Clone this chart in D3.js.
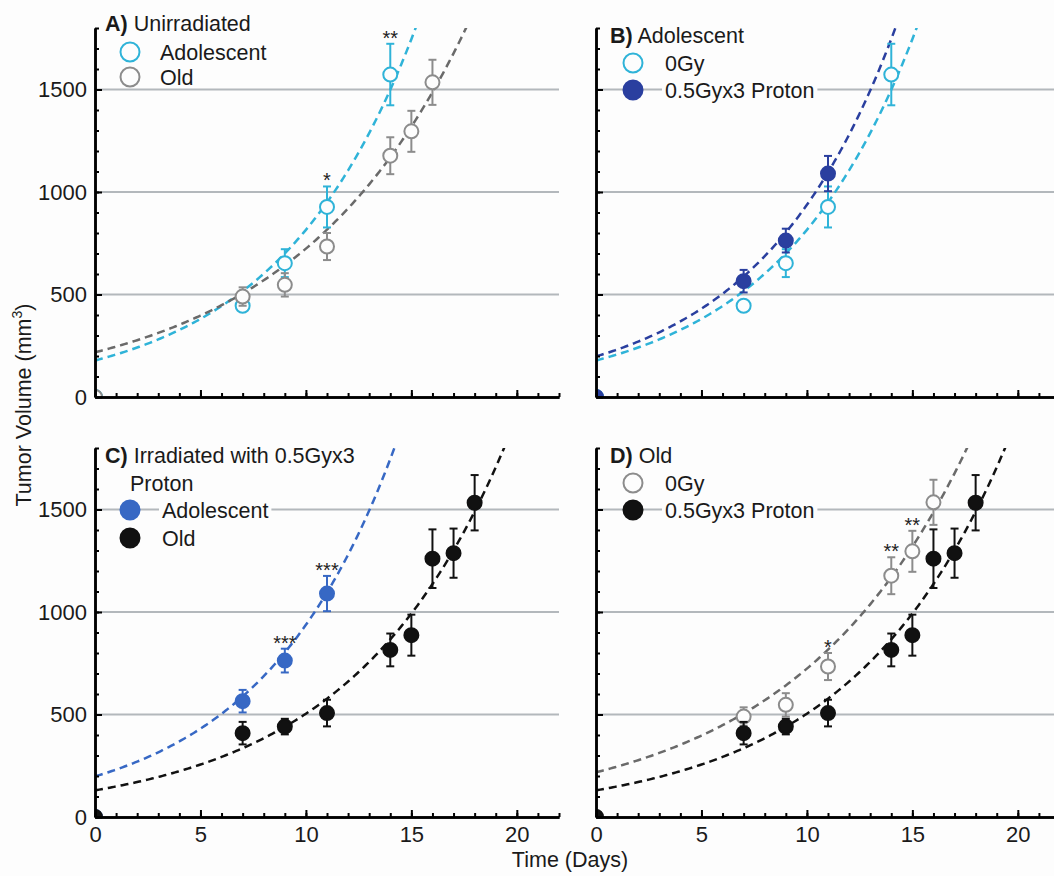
<!DOCTYPE html>
<html>
<head>
<meta charset="utf-8">
<script src="https://cdn.jsdelivr.net/npm/d3@7"></script>
<style>
  body { margin: 0; background: #fdfdfd; }
  svg { display: block; font-family: "Liberation Sans", Arial, sans-serif; }
</style>
</head>
<body>
<svg id="chart"></svg>
<script>
// ---- data ----
// Adolescent, unirradiated (0Gy)
const adol0Days = [0, 7, 9, 11, 14];
const adol0Mean = [0, 445, 653, 927, 1573];
const adol0Err  = [0, 20, 68, 100, 150];
// Old, unirradiated (0Gy)
const old0Days = [0, 7, 9, 11, 14, 15, 16];
const old0Mean = [0, 490, 547, 734, 1177, 1296, 1535];
const old0Err  = [0, 45, 57, 66, 90, 100, 110];
// Adolescent, 0.5Gyx3 proton
const adolPDays = [0, 7, 9, 11];
const adolPMean = [0, 565, 763, 1090];
const adolPErr  = [0, 55, 58, 86];
// Old, 0.5Gyx3 proton
const oldPDays = [0, 7, 9, 11, 14, 15, 16, 17, 18];
const oldPMean = [0, 409, 441, 507, 815, 887, 1260, 1287, 1533];
const oldPErr  = [0, 55, 38, 65, 80, 100, 143, 120, 135];

// exponential fits  V = v0 * exp(k t)
const fitNames = ["adol0", "old0", "adolP", "oldP"];
const fitV0 = [178, 218, 198, 130];
const fitK  = [0.1522, 0.120, 0.1555, 0.1355];

// significance marks
const starPanels = ["A", "A", "C", "C", "D", "D", "D"];
const starSeries = ["adol0", "adol0", "adolP", "adolP", "old0", "old0", "old0"];
const starDays   = [11, 14, 9, 11, 11, 14, 15];
const starLabels = ["*", "**", "***", "***", "*", "**", "**"];

const xTicks = [0, 5, 10, 15, 20];
const yTicks = [0, 500, 1000, 1500];
const xMax = 22, yMax = 1800;

// ---- setup ----
const width = 1054, height = 876;
const innerW = 464, innerH = 369;

const svg = d3.select("#chart")
  .attr("width", width)
  .attr("height", height)
  .attr("viewBox", [0, 0, width, height]);

svg.append("rect").attr("width", width).attr("height", height).attr("fill", "#fdfdfd");

const series = {
  adol0: { days: adol0Days, mean: adol0Mean, err: adol0Err },
  old0:  { days: old0Days,  mean: old0Mean,  err: old0Err },
  adolP: { days: adolPDays, mean: adolPMean, err: adolPErr },
  oldP:  { days: oldPDays,  mean: oldPMean,  err: oldPErr }
};

const cyan = "#2fb3d8", grey = "#8c8c8c", greyLine = "#6a6a6a",
      navy = "#2a3f9f", blue = "#3768c4", black = "#111";

const panels = [
  { key: "A", left: 95, top: 28, title: ["A)", " Unirradiated"], sub: null,
    xLabels: false, yLabels: true, tx: 10, ty: 3,
    lmx: 35, ltx: 65, lys: [24, 49],
    items: [
      { s: "adol0", name: "Adolescent", color: cyan, line: cyan, fill: false },
      { s: "old0", name: "Old", color: grey, line: greyLine, fill: false }
    ] },
  { key: "B", left: 596, top: 28, title: ["B)", " Adolescent"], sub: null,
    xLabels: false, yLabels: false, tx: 14, ty: 15,
    lmx: 37, ltx: 69, lys: [35, 62],
    items: [
      { s: "adol0", name: "0Gy", color: cyan, line: cyan, fill: false },
      { s: "adolP", name: "0.5Gyx3 Proton", color: navy, line: navy, fill: true }
    ] },
  { key: "C", left: 95, top: 448, title: ["C)", " Irradiated with 0.5Gyx3"], sub: "Proton",
    xLabels: true, yLabels: true, tx: 10, ty: 15,
    lmx: 35, ltx: 67, lys: [62, 90],
    items: [
      { s: "adolP", name: "Adolescent", color: blue, line: blue, fill: true },
      { s: "oldP", name: "Old", color: black, line: black, fill: true }
    ] },
  { key: "D", left: 596, top: 448, title: ["D)", " Old"], sub: null,
    xLabels: true, yLabels: false, tx: 14, ty: 15,
    lmx: 37, ltx: 69, lys: [35, 62],
    items: [
      { s: "old0", name: "0Gy", color: grey, line: greyLine, fill: false },
      { s: "oldP", name: "0.5Gyx3 Proton", color: black, line: black, fill: true }
    ] }
];

const x = d3.scaleLinear().domain([0, xMax]).range([0, innerW]);
const y = d3.scaleLinear().domain([0, yMax]).range([innerH, 0]);

const line = d3.line().x(d => x(d[0])).y(d => y(d[1]));
const tSamples = d3.range(0, xMax + 0.001, 0.1);

for (let p of panels) {
  const g = svg.append("g").attr("transform", `translate(${p.left},${p.top})`);

  g.append("clipPath").attr("id", "clip" + p.key)
    .append("rect").attr("width", innerW).attr("height", innerH);

  // gridlines
  g.append("g").selectAll("line")
    .data(yTicks.filter(d => d > 0))
    .join("line")
    .attr("x1", 0).attr("x2", innerW)
    .attr("y1", d => y(d)).attr("y2", d => y(d))
    .attr("stroke", "#b3b8bc").attr("stroke-width", 2);

  const plot = g.append("g").attr("clip-path", `url(#clip${p.key})`);

  // fit lines
  for (let it of p.items) {
    let i = fitNames.indexOf(it.s);
    let pts = tSamples.map(t => [t, fitV0[i] * Math.exp(fitK[i] * t)]);
    plot.append("path")
      .datum(pts)
      .attr("fill", "none")
      .attr("stroke", it.line)
      .attr("stroke-width", 2.5)
      .attr("stroke-dasharray", "8,5")
      .attr("d", line);
  }

  // error bars + markers
  for (let it of p.items) {
    let s = series[it.s];
    let pts = s.days.map((d, i) => ({ day: d, m: s.mean[i], e: s.err[i] }));
    let eb = plot.append("g").attr("stroke", it.color).attr("stroke-width", 2);
    for (let d of pts.filter(d => d.e > 0)) {
      eb.append("line").attr("x1", x(d.day)).attr("x2", x(d.day))
        .attr("y1", y(d.m - d.e)).attr("y2", y(d.m + d.e));
      for (let v of [d.m - d.e, d.m + d.e]) {
        eb.append("line").attr("x1", x(d.day) - 4).attr("x2", x(d.day) + 4)
          .attr("y1", y(v)).attr("y2", y(v));
      }
    }
    plot.append("g").selectAll("circle")
      .data(pts)
      .join("circle")
      .attr("cx", d => x(d.day))
      .attr("cy", d => y(d.m))
      .attr("r", 7)
      .attr("fill", it.fill ? it.color : "#fdfdfd")
      .attr("stroke", it.color)
      .attr("stroke-width", 2);
  }

  // significance stars
  starPanels.forEach((sp, i) => {
    if (sp !== p.key) return;
    let s = series[starSeries[i]];
    let j = s.days.indexOf(starDays[i]);
    g.append("text")
      .attr("x", x(starDays[i]))
      .attr("y", y(s.mean[j] + s.err[j]) + 1)
      .attr("text-anchor", "middle")
      .attr("font-size", 20)
      .attr("fill", "#222")
      .text(starLabels[i]);
  });

  // axes
  const xMinor = g.append("g").attr("transform", `translate(0,${innerH})`)
    .call(d3.axisBottom(x).tickValues(d3.range(0, xMax + 1)).tickSize(-4).tickSizeOuter(0).tickFormat(""));
  const xMajor = g.append("g").attr("transform", `translate(0,${innerH})`)
    .call(d3.axisBottom(x).tickValues(xTicks).tickSize(-7).tickSizeOuter(0).tickPadding(9)
      .tickFormat(p.xLabels ? d3.format("d") : ""));
  const yMinor = g.append("g")
    .call(d3.axisLeft(y).tickValues(d3.range(0, yMax + 1, 100)).tickSize(-4).tickSizeOuter(0).tickFormat(""));
  const yMajor = g.append("g")
    .call(d3.axisLeft(y).tickValues(yTicks).tickSize(-7).tickSizeOuter(0).tickPadding(8)
      .tickFormat(p.yLabels ? d3.format("d") : ""));

  for (let ax of [xMinor, xMajor, yMinor, yMajor]) {
    ax.select(".domain").attr("stroke", "#000").attr("stroke-width", 2.5);
    ax.selectAll(".tick line").attr("stroke", "#000").attr("stroke-width", 2);
    ax.selectAll(".tick text").attr("font-size", 22).attr("fill", "#1a1a1a")
      .attr("font-family", "Liberation Sans, Arial, sans-serif");
  }

  // title + legend
  const lg = g.append("g").attr("font-size", 21.5).attr("fill", "#1a1a1a");
  const title = lg.append("text").attr("x", p.tx).attr("y", p.ty);
  title.append("tspan").attr("font-weight", "bold").text(p.title[0]);
  title.append("tspan").text(p.title[1]);
  if (p.sub) {
    lg.append("text").attr("x", p.lmx).attr("y", p.ty + 28).text(p.sub);
  }
  p.items.forEach((it, i) => {
    let ly = p.lys[i];
    let t = lg.append("text").attr("x", p.ltx).attr("y", ly + 7.5).text(it.name);
    let bb = t.node().getBBox();
    // background only behind the glyph band, so nearby gridlines stay visible
    lg.insert("rect", "text")
      .attr("x", bb.x - 3).attr("y", ly - 9.5).attr("width", bb.width + 6).attr("height", 18)
      .attr("fill", "#fdfdfd");
    lg.append("circle")
      .attr("cx", p.lmx).attr("cy", ly).attr("r", 9.5)
      .attr("fill", it.fill ? it.color : "#fdfdfd")
      .attr("stroke", it.color).attr("stroke-width", 2);
  });
}

// axis titles
const yTitle = svg.append("text")
  .attr("transform", "translate(31,405) rotate(-90)")
  .attr("text-anchor", "middle")
  .attr("font-size", 21.5)
  .attr("fill", "#1a1a1a");
yTitle.append("tspan").text("Tumor Volume (mm");
yTitle.append("tspan").attr("font-size", 14).attr("dy", -9).text("3");
yTitle.append("tspan").attr("dy", 9).text(")");

svg.append("text")
  .attr("x", 570).attr("y", 867)
  .attr("text-anchor", "middle")
  .attr("font-size", 21.5)
  .attr("fill", "#1a1a1a")
  .text("Time (Days)");
</script>
</body>
</html>
